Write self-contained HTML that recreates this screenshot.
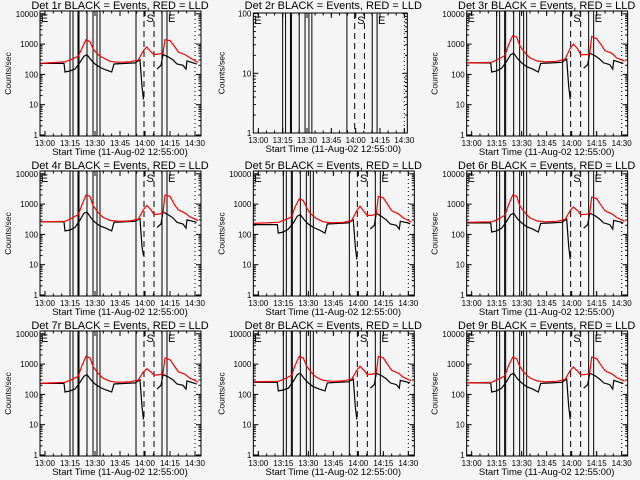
<!DOCTYPE html>
<html><head><meta charset="utf-8">
<style>
html,body{margin:0;padding:0;background:#f5f5f5;}
svg{display:block;font-family:"Liberation Sans",sans-serif;}
</style></head>
<body>
<svg id="chart" width="640" height="480" viewBox="0 0 640 480" xmlns="http://www.w3.org/2000/svg">
<rect x="0" y="0" width="640" height="480" fill="#f5f5f5"/>
</svg>
<script>
// Shared time axis (minutes after 12:55:00)
const tickMinutes = [5, 20, 35, 50, 65, 80, 95];
const tickLabels = ["13:00","13:15","13:30","13:45","14:00","14:15","14:30"];
const redTimes = [2,17,20,25,27,29.6,32,33.8,36,38,40,44,48.8,56,61,64,66,68.6,70.4,74,75.8,77,80,83,85,89,92,95,96.8];
const blackTimes = [2,16.4,17,20,23,26,28.4,30.2,32.6,35,38,41.6,45,46.4,53,59,62,63.2,64.1,65,72.2,74.6,75.8,78.8,81.8,84.2,87.8,89.6,90.2,95,96];
const solidLines = [20,21.8,24.8,25.4,30.2,33.8,36.2,38,59.6,75.2,78.2];
const dashedLines = [64.4,70.4];
const dottedLines = [95];
const detNames = ["1r","2r","3r","4r","5r","6r","7r","8r","9r"];

const red1 = [230,260,300,400,700,1400,1200,700,500,400,350,270,250,260,300,600,800,550,450,480,500,1400,1300,800,550,450,350,280,250];
const red3 = [240,250,300,420,900,1900,1700,900,600,450,350,280,260,270,320,700,1000,700,450,450,480,1800,1500,900,600,500,350,300,270];
const red4 = [260,270,320,450,900,2000,1800,900,600,450,360,290,270,280,320,650,900,650,450,480,520,2000,1800,900,650,500,380,320,290];
const red5 = [230,250,290,380,800,1500,1300,800,500,400,330,260,240,250,290,600,850,550,420,430,480,1800,1600,900,600,480,350,290,250];
const red6 = [250,260,300,430,900,2000,1800,900,600,450,350,280,260,270,310,600,800,600,450,460,500,1700,1500,850,600,480,360,300,270];
const red7 = [230,250,290,400,850,1800,1600,850,560,420,340,270,250,260,300,550,700,550,430,450,490,1600,1400,800,560,460,340,290,250];
const red8 = [260,270,310,430,900,1800,1600,900,600,450,360,290,270,280,320,620,850,600,450,470,520,1800,1600,900,620,500,370,310,280];
const red9 = [240,250,300,410,850,1700,1500,850,560,430,350,280,260,270,310,600,800,580,440,460,500,1700,1500,850,600,480,360,300,270];

const blk1 = [230,230,120,130,150,250,400,450,300,220,170,140,120,220,230,240,300,40,15,null,150,200,450,380,300,220,200,150,280,230,220];
const blk3 = [240,240,120,130,160,270,450,500,330,240,180,150,120,230,240,250,320,40,15,null,160,210,500,420,320,240,210,150,290,240,230];
const blk4 = [260,260,130,140,170,300,500,550,350,250,190,160,130,250,260,270,330,40,20,null,170,220,550,450,350,250,220,160,300,260,250];
const blk5 = [210,210,110,120,150,240,400,450,300,220,170,140,110,220,230,240,300,40,15,null,150,200,500,400,300,220,200,150,270,240,220];
const blk6 = [240,240,120,130,160,270,450,500,320,240,180,150,120,230,240,250,320,40,15,null,160,210,500,420,320,240,210,150,290,250,230];
const blk7 = [230,230,120,130,150,250,400,450,300,220,170,140,120,220,230,240,300,40,15,null,150,200,450,380,300,220,200,150,280,230,220];
const blk8 = [250,250,130,140,160,270,450,500,330,240,180,150,130,240,250,260,320,40,15,null,160,210,500,420,330,240,210,160,290,250,240];
const blk9 = [240,240,120,130,160,270,450,500,320,240,180,150,120,230,240,250,320,40,15,null,160,210,500,420,320,240,210,150,290,240,230];

const redSeries = [red1,null,red3,red4,red5,red6,red7,red8,red9];
const blackSeries = [blk1,null,blk3,blk4,blk5,blk6,blk7,blk8,blk9];

const NS = "http://www.w3.org/2000/svg";
const svg = document.getElementById("chart");
function mk(tag, attrs, parent){
  const e = document.createElementNS(NS, tag);
  for (const k in attrs) e.setAttribute(k, attrs[k]);
  (parent||svg).appendChild(e);
  return e;
}

for (let p = 0; p < 9; p++) {
  const c = p % 3, r = Math.floor(p / 3);
  const ox = c * 213.33, oy = r * 160;
  const isEmpty = (p === 1);
  const L = ox + 40, R = ox + (isEmpty ? 194 : 201);
  const T = oy + (isEmpty ? 13 : 11), B = oy + (isEmpty ? 133 : 136);
  const decades = isEmpty ? 2 : 4;
  const perDec = isEmpty ? 59.7 : 30.3;
  const y0 = isEmpty ? oy + 133 : oy + 135;
  const x5 = ox + 45, x95 = ox + (isEmpty ? 191 : 195);
  const xs = m => x5 + (m - 5) * (x95 - x5) / 90;
  const ys = v => y0 - Math.log10(v) * perDec;

  const g = mk("g", {});
  
  

  const title = mk("text", {x: ox + 120, y: oy + 9, "font-size": 11, "text-anchor": "middle", fill: "#000"}, g);
  title.textContent = "Det " + detNames[p] + " BLACK = Events, RED = LLD";
  
  

  const cid = "clip" + p;
  const cp = mk("clipPath", {id: cid}, g);
  mk("rect", {x: L, y: T, width: R - L, height: B - T}, cp);

  const vl = mk("g", {"clip-path": "url(#" + cid + ")"}, g);
  
  
  solidLines.forEach(m => mk("line", {x1: xs(m), x2: xs(m), y1: T, y2: B, stroke: "#000", "stroke-width": 1}, vl));
  dashedLines.forEach(m => mk("line", {x1: xs(m), x2: xs(m), y1: T, y2: B, stroke: "#000", "stroke-width": 1, "stroke-dasharray": "6,4"}, vl));
  dottedLines.forEach(m => mk("line", {x1: xs(m), x2: xs(m), y1: T, y2: B, stroke: "#000", "stroke-width": 1, "stroke-dasharray": "1,3"}, vl));
  [["E", 2.5], ["S", 66], ["E", 78.8]].forEach(([s, m]) => {
    const t = mk("text", {x: xs(m), y: T + 11, "font-size": 11, fill: "#000"}, vl);
    t.textContent = s;
    
    
  });

  if (!isEmpty) {
    const drawSeries = (times, vals, color, name) => {
      let d = "", pen = false;
      for (let i = 0; i < times.length; i++) {
        if (vals[i] == null) { pen = false; continue; }
        d += (pen ? "L" : "M") + xs(times[i]).toFixed(1) + " " + ys(vals[i]).toFixed(1) + " ";
        pen = true;
      }
      const path = mk("path", {d: d, fill: "none", stroke: color, "stroke-width": 1.2, "clip-path": "url(#" + cid + ")"}, g);
      
      
    };
    drawSeries(blackTimes, blackSeries[p], "#000", "events-line");
    drawSeries(redTimes, redSeries[p], "#ff0000", "lld-line");
  }

  const box = mk("rect", {x: L, y: T, width: R - L, height: B - T, fill: "none", stroke: "#000", "stroke-width": 1}, g);
  
  

  for (let d = 0; d <= decades; d++) {
    const v = Math.pow(10, d);
    const y = ys(v);
    mk("line", {x1: L, x2: L + 5, y1: y, y2: y, stroke: "#000"}, g);
    mk("line", {x1: R, x2: R - 5, y1: y, y2: y, stroke: "#000"}, g);
    const t = mk("text", {x: L - 2, y: y + 3, "font-size": 8, "text-anchor": "end", fill: "#000"}, g);
    t.textContent = String(v);
    
    
    if (d < decades) for (let k = 2; k <= 9; k++) {
      const ym = ys(v * k);
      mk("line", {x1: L, x2: L + 2.5, y1: ym, y2: ym, stroke: "#000"}, g);
      mk("line", {x1: R, x2: R - 2.5, y1: ym, y2: ym, stroke: "#000"}, g);
    }
  }
  tickMinutes.forEach((m, i) => {
    const x = xs(m);
    mk("line", {x1: x, x2: x, y1: B, y2: B - 5, stroke: "#000"}, g);
    mk("line", {x1: x, x2: x, y1: T, y2: T + 5, stroke: "#000"}, g);
    const t = mk("text", {x: x, y: B + 10, "font-size": 8, "text-anchor": "middle", fill: "#000"}, g);
    t.textContent = tickLabels[i];
    
    
  });
  for (let m = 5; m <= 95; m += 5) {
    const x = xs(m);
    mk("line", {x1: x, x2: x, y1: B, y2: B - 2.5, stroke: "#000"}, g);
    mk("line", {x1: x, x2: x, y1: T, y2: T + 2.5, stroke: "#000"}, g);
  }
  const xt = mk("text", {x: ox + 120, y: B + 19, "font-size": 9.5, "text-anchor": "middle", fill: "#000"}, g);
  xt.textContent = "Start Time (11-Aug-02 12:55:00)";
  
  
  const yc = (T + B) / 2;
  const yt = mk("text", {x: ox + 11, y: yc, "font-size": 8.5, "text-anchor": "middle", fill: "#000", transform: "rotate(-90 " + (ox + 11) + " " + yc + ")"}, g);
  yt.textContent = "Counts/sec";
  
  
}
</script>
</body></html>
